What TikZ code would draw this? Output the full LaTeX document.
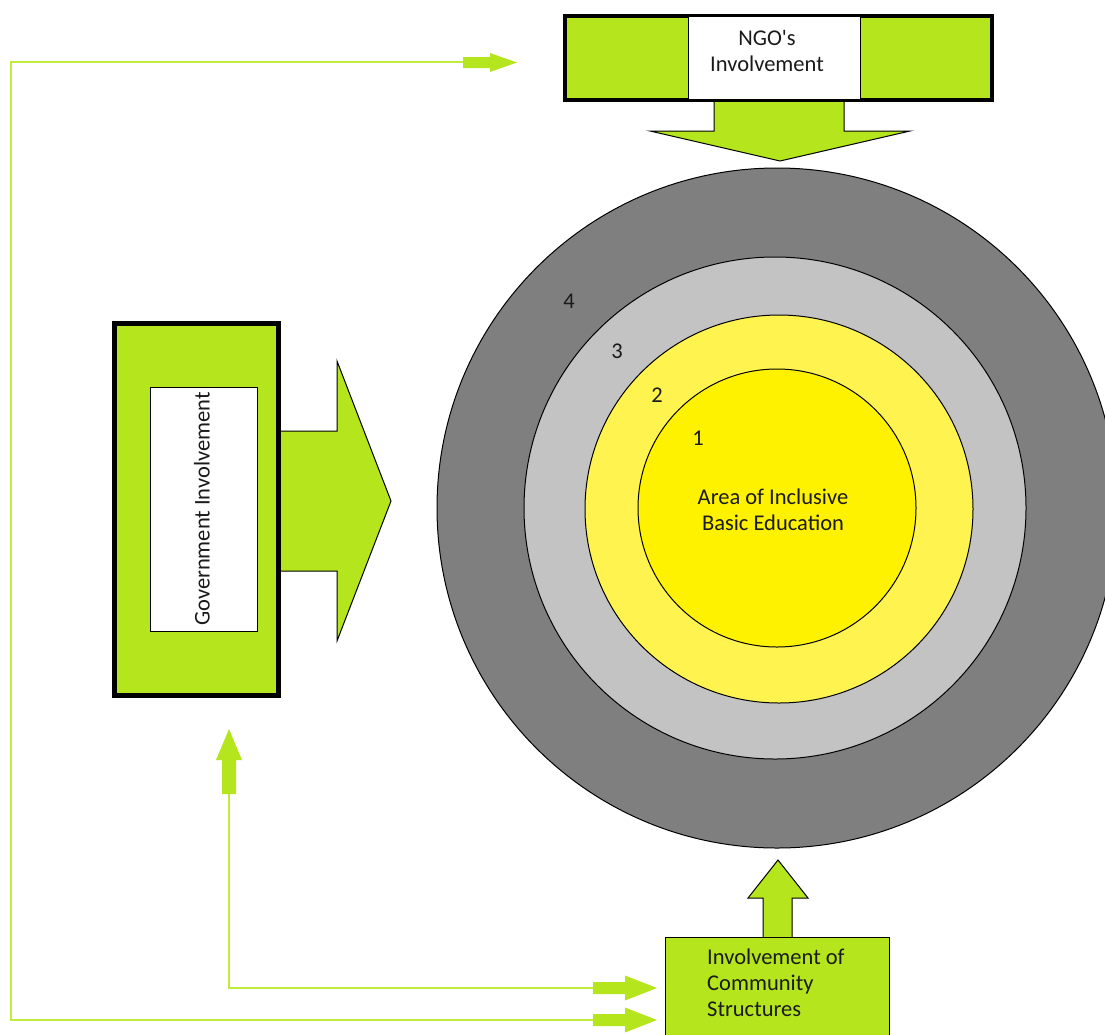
\documentclass[tikz,border=0pt]{standalone}
\usepackage{fontspec}
\setmainfont{Carlito}[Ligatures=TeXOff]
\usetikzlibrary{calc}
\definecolor{lime}{HTML}{B5E61D}
\definecolor{limeln}{HTML}{C0EC3A}
\definecolor{ringfour}{HTML}{7F7F7F}
\definecolor{ringthree}{HTML}{C3C3C3}
\definecolor{ringtwo}{HTML}{FFF44F}
\definecolor{ringone}{HTML}{FFF200}
\definecolor{ink}{HTML}{1A1A1A}
\tikzset{
  ring/.style={circle, draw=black, line width=1pt, inner sep=0pt},
  lbl/.style={font=\fontsize{22.5}{26}\selectfont, text=ink, inner sep=0pt},
  blockarrow/.style={fill=lime, draw=black, line width=1pt, line join=miter},
  thinarrow/.style={fill=lime, draw=none},
  feed/.style={draw=limeln, line width=2.5pt},
  outerbox/.style={draw=black, fill=lime, inner sep=0pt},
  innerbox/.style={draw=black, fill=white, line width=1pt, inner sep=0pt},
}
\begin{document}
\begin{tikzpicture}[x=1pt,y=-1pt]
\useasboundingbox (0,0) rectangle (1105,1034);
\begin{scope}
  \clip (0,0) rectangle (1105,1034);
  % concentric rings
  \node[ring, fill=ringfour, minimum size=680pt] (c4) at (777,508) {};
  \node[ring, fill=ringthree, minimum size=502pt] (c3) at (775,508) {};
  \node[ring, fill=ringtwo, minimum size=388pt] (c2) at (779,509) {};
  \node[ring, fill=ringone, minimum size=278pt] (c1) at (777,508) {};
  \node[lbl] (n4) at (569,301) {4};
  \node[lbl] (n3) at (617,351) {3};
  \node[lbl] (n2) at (657,395) {2};
  \node[lbl] (n1) at (698,438) {1};
  \node[lbl, align=center] (area) at (773,510) {Area of Inclusive\\Basic Education};

  % NGO block and its arrow
  \draw[blockarrow] (714,100) -- (714,131) -- (650,131) -- (780,161) -- (910,131) -- (844,131) -- (844,100);
  \node[outerbox, line width=4pt, minimum width=427pt, minimum height=84pt] (ngo) at (778.5,58) {};
  \node[innerbox, minimum width=172pt, minimum height=83pt] (ngoin) at (774,57.5) {};
  \node[lbl, align=center] (ngot) at (767,51) {NGO's\\Involvement};

  % Government block and its arrow
  \draw[blockarrow] (279,431) -- (337,431) -- (337,361) -- (391,501) -- (337,641) -- (337,571) -- (279,571);
  \node[outerbox, line width=5pt, minimum width=164pt, minimum height=372pt] (gov) at (196.5,509.5) {};
  \node[innerbox, minimum width=107pt, minimum height=244pt] (govin) at (203.5,509) {};
  \node[lbl, rotate=90] (govt) at (202,509) {Government Involvement};

  % Community block and its arrow
  \draw[blockarrow] (763,938) -- (763,898) -- (748,898) -- (778,860) -- (808,898) -- (792,898) -- (792,938);
  \node[outerbox, line width=1.2pt, minimum width=224pt, minimum height=110pt, anchor=north west] (comm) at (665,937) {};
  \node[lbl, align=left, anchor=west] (commt) at (707,983) {Involvement of\\Community\\Structures};

  % feedback connectors
  \coordinate (govfoot) at (229,793);
  \coordinate (commin1) at (593,988);
  \coordinate (commin2) at (593,1020);
  \coordinate (corner) at (11,1020);
  \coordinate (ngofeed) at (463,62);
  \draw[feed] (govfoot) |- (commin1);
  \draw[feed] (commin2) -- (corner) |- (ngofeed);

  \fill[thinarrow] (222,794) -- (222,760) -- (216,760) -- (229,729) -- (242,760) -- (236,760) -- (236,794) -- cycle;
  \fill[thinarrow] (593,982) -- (625,982) -- (625,975.5) -- (657,988) -- (625,1000.5) -- (625,994) -- (593,994) -- cycle;
  \fill[thinarrow] (593,1014) -- (625,1014) -- (625,1007.5) -- (657,1020) -- (625,1032.5) -- (625,1026) -- (593,1026) -- cycle;
  \fill[thinarrow] (463,57) -- (490,57) -- (490,53) -- (517,62.5) -- (490,72) -- (490,68) -- (463,68) -- cycle;
\end{scope}
\end{tikzpicture}
\end{document}
